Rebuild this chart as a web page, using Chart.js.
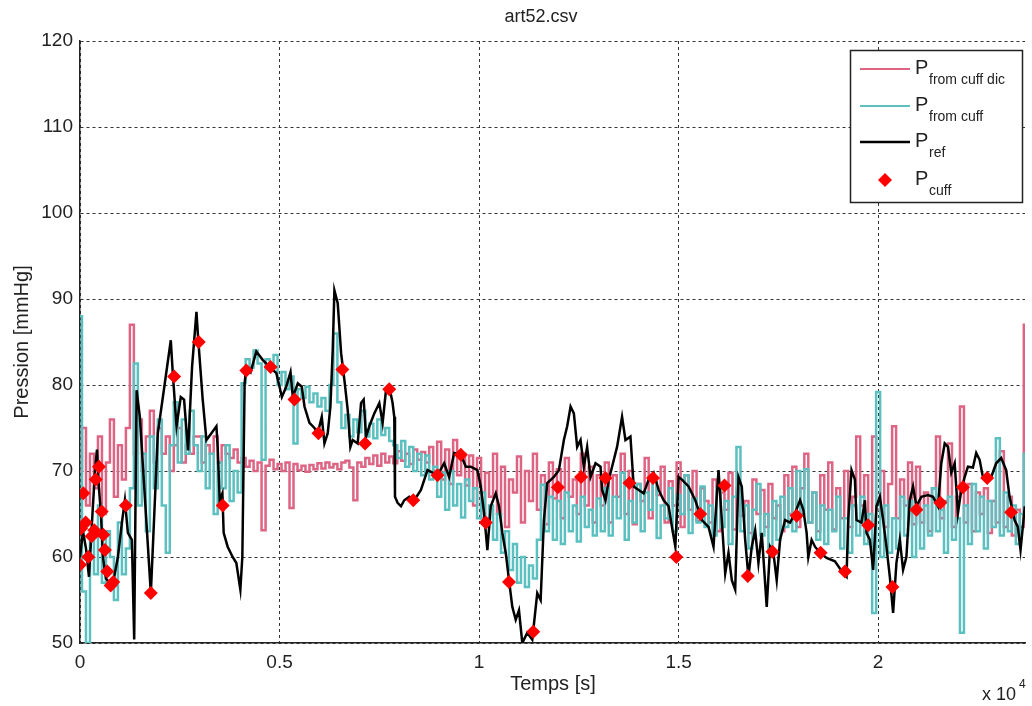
<!DOCTYPE html>
<html><head><meta charset="utf-8">
<script src="https://cdn.jsdelivr.net/npm/chart.js@4.4.1/dist/chart.umd.min.js"></script>
<style>html,body{margin:0;padding:0;background:#fff;}#wrap{width:1032px;height:706px;position:relative;}</style>
</head><body><div id="wrap"><canvas id="c" width="1032" height="706"></canvas></div>
<script>
// ---- text ----
const chartTitle = 'art52.csv';
const xAxisTitle = 'Temps [s]';
const yAxisTitle = 'Pression [mmHg]';
const legendLabels = ['from cuff dic', 'from cuff', 'ref', 'cuff'];
// ---- axes ----
const xRange = [0, 23680];
const yRange = [50, 120];
const xTickValues = [0, 5000, 10000, 15000, 20000];
const yTickValues = [50, 60, 70, 80, 90, 100, 110, 120];
const xTickScale = 10000; // labels shown as x 10^4
// ---- sampled noisy series (sample spacing in s) ----
const SAMPLE_STEP = 100;
const pFromCuffDic = [70,75,66,72,68,74,65,71,76,67,73,69,75,87,
72,76,70,74,77,71,75,72,74,70,73,75,71,73,72,74,
74,71,73,72,74,71,73,72,71.5,72.5,71,71.5,
70.5,71.2,70,71,63.1,70.6,71.3,70.2,70.8,70,71,65.7,70.8,70.1,70.6,69.9,70.7,70.2,70.9,70.3,71,70.4,70.8,70.2,71,
71.2,70.4,66.6,71,70.5,71.5,70.8,71.8,70.6,72,71,71.7,70.9,72.3,71.2,72,70.8,72.5,71.3,72.2,71,72.8,
70,73.4,69,72.5,68.5,73.6,69.5,72,68.3,71.8,
66,71.5,64.5,69.8,67,72,65,70.5,63.5,69,67.5,71.7,64,70,66.5,72,65.5,69.5,63.8,71,66.8,70.2,64.5,71.5,67,69,65,72,66,70.5,64,69.5,
66,71,64,69.5,67,72,65,70,63.8,68.5,66.5,71.5,64.5,69,67.2,70.5,64,68.8,66,71,63.5,69.5,65.5,70,64.2,68,66.5,
64,69,63,67.5,65.5,69.8,63.2,68,64.8,66.5,62.8,69,65,67.8,63.5,68.5,64.5,66,63,69.5,
65,70.5,63.5,68,72,64,67.5,63,69.5,65.5,71,63.2,68,64.5,70,63.5,67,74,
66,69.5,64,74,65.5,70,63.5,68.5,75.2,64.5,69,66,71,63.8,70.5,
64,67.5,63,68,74,64.5,66.5,73.2,63.5,67,77.5,64,68.5,63,67.5,65,68,62.8,66.5,64,72.3,63.5,67,62.5,65.5,63.5,
87];
const pFromCuff = [88,
56,50,62,58,66,57,63,60,55,64,58,61,68,
82.5,
66,72,63,74,68,76,66,60.5,73,78,71,76,72,77,73,
70,74,68,72,65,71,68,73,66.5,70,67.5,
80.2,
83,82,84,82.5,71.3,83,82,83.5,80,81.5,79.5,81,73.2,79.5,78.5,79.8,78,79,77.5,78.5,77,80,86,
78,75,76.5,74,76,74.5,77,74,75.5,73.8,76,74.2,75,73.5,
73,71.5,73.5,70.5,72.8,70,72,69.5,71.8,69,
70.5,67,69.8,65.5,70,66,68.5,64.6,69,66.5,
68,64.5,67.5,63.5,66,62,65,60.5,63,58.5,61.5,57,60,56.5,
59,57.5,62,68.4,63,67,62,66.5,61.5,67.5,63,66,61.8,67,63.5,65.5,62.5,66.8,
63,68,62.5,67,64.5,69.8,62,66.5,64,68.5,63,67.5,65.5,69,62.2,66,64.5,68,63,67.2,65,69.5,62.8,66.8,64,68.2,63.5,
66,62.5,68,63.5,66.5,61.5,67,72.8,63,66,61,65.5,68.5,62.5,65,60.5,66.5,62,67,63.5,
68,63,70,65,70.2,64,67.5,62,66,61.5,65.5,63,67,61,64.5,60.5,66,62.5,
67,61.5,65,53.5,79.2,60,66,60.5,64.5,61,67,62.5,66.5,60,65,
61,66,62.5,68,63,65.5,60.5,67,62,64.5,51.2,66,61.5,68.5,63,67,61,66.5,63.5,73.8,62.5,67.5,63,66,61.5,65,
72];
// ---- reference pressure [time s, mmHg] ----
const pRef = [[0,60],[75,63],[150,61],[225,57.7],[300,64],[375,70],[425,72.5],[475,68],[525,65],[575,60],[650,57.5],[750,57],[850,57.5],[950,60],[1050,64],[1125,66.6],[1200,62.8],[1300,62],[1358,50.4],[1418,79.4],[1500,76.3],[1775,55.8],[1950,74.4],[2125,80.2],[2275,85.2],[2325,81.4],[2418,75.2],[2525,78.6],[2608,78.3],[2708,72.4],[2808,82.1],[2918,88.5],[2958,85.6],[3075,78.3],[3168,73.6],[3293,74.4],[3418,75.2],[3450,72.8],[3500,66.6],[3568,67.4],[3600,62.8],[3700,61.2],[3825,60],[3918,59.3],[4018,56.2],[4068,60],[4125,80.2],[4168,82.1],[4275,81.5],[4418,83.9],[4583,82.9],[4750,82.1],[4918,81.4],[5000,79.8],[5058,78.6],[5168,79.8],[5275,81.5],[5333,78.6],[5458,80.2],[5558,79.8],[5625,77.5],[5750,75.6],[5875,75],[5958,74.4],[6058,76.3],[6125,73.2],[6208,74.4],[6275,77.5],[6333,84.1],[6375,91],[6458,89.5],[6543,83.7],[6625,80.6],[6708,77.1],[6775,72.8],[6833,73.6],[6958,73.2],[7043,77.9],[7108,78.3],[7168,74],[7250,75.2],[7375,76.7],[7500,77.9],[7583,75.6],[7668,79.4],[7750,79.8],[7833,77.9],[7875,76.3],[7893,67],[7958,66.3],[8043,65.9],[8125,66.6],[8250,67],[8375,66.6],[8543,67.8],[8708,70.1],[8833,69.8],[8958,69.5],[9125,70.9],[9250,69.3],[9375,72.1],[9543,71.9],[9668,70.5],[9793,70.5],[9958,70.1],[10043,68.2],[10125,65.1],[10208,60.8],[10293,65.9],[10418,67.4],[10500,65.9],[10583,62.8],[10668,60.5],[10750,57.3],[10833,54.2],[10918,52.7],[11000,53.8],[11083,50],[11208,51.2],[11333,50.4],[11458,55.8],[11543,55],[11625,64.3],[11708,68.6],[11875,69.3],[12000,70.1],[12125,73.6],[12208,75.2],[12293,77.5],[12375,76.7],[12458,72.8],[12543,73.6],[12625,70.5],[12708,72.8],[12793,69.3],[12918,70.9],[13043,70.5],[13083,67.8],[13168,66.6],[13250,69],[13333,70.5],[13458,72.8],[13583,76.3],[13668,73.6],[13793,74],[13875,68.2],[14000,67.8],[14125,67.4],[14250,69],[14375,69.8],[14500,67.8],[14625,66.6],[14750,65.9],[14833,63.5],[14918,61.2],[15000,69.3],[15083,69],[15250,68.2],[15418,66.6],[15583,64.3],[15750,63.5],[15875,61.2],[16000,70.1],[16083,64.3],[16168,58.1],[16250,60.5],[16333,57.3],[16418,56.2],[16500,69.3],[16583,68.2],[16668,62],[16750,57.7],[16833,61.2],[16918,63.1],[17000,59.3],[17083,62.8],[17208,54.2],[17293,61.2],[17375,60.5],[17458,57.3],[17543,62],[17668,64.3],[17793,64],[17918,65.1],[18043,66.6],[18125,65.5],[18208,62.8],[18250,60],[18333,62],[18418,61.2],[18543,60.5],[18708,59.9],[18918,59.5],[19125,58.1],[19208,57.7],[19250,64.3],[19333,70.1],[19418,69],[19458,64.3],[19583,64],[19668,66.6],[19708,62.8],[19793,62],[19875,58.5],[19958,65.9],[20043,67],[20125,64.3],[20208,61.2],[20293,57.7],[20375,53.5],[20458,59.3],[20543,62],[20625,58.5],[20708,60],[20793,66.6],[20875,68.2],[20958,65.9],[21083,67],[21250,67.2],[21375,67],[21500,65.9],[21583,70.9],[21668,73.2],[21750,72.8],[21833,69.8],[21918,70.9],[22000,65.1],[22083,67.8],[22168,69.3],[22250,70.5],[22375,70.4],[22458,72.1],[22543,71.3],[22625,69.3],[22833,69.3],[22958,70.9],[23083,71.5],[23208,70.1],[23293,67],[23418,64.3],[23500,63.5],[23568,60.8],[23625,63.5],[23675,65.9]];
// ---- cuff measurements [time s, mmHg] ----
const pCuff = [[0,59.1],[25,63.3],[83,67.4],[143,64.0],[208,60.0],[293,62.4],[358,63.1],[393,69.0],[475,70.5],[543,65.3],[583,62.6],[625,60.8],[683,58.3],[768,56.7],[833,57.1],[1150,66.0],[1775,55.8],[2358,81.0],[2975,85.0],[3575,66.0],[4168,81.7],[4775,82.1],[5375,78.3],[5975,74.4],[6575,81.8],[7143,73.2],[7750,79.5],[8350,66.6],[8958,69.5],[9543,71.9],[10168,64.0],[10750,57.1],[11358,51.3],[11975,68.1],[12558,69.3],[13168,69.2],[13768,68.6],[14358,69.2],[14943,60.0],[15543,65.0],[16150,68.3],[16733,57.8],[17350,60.6],[17958,64.8],[18558,60.5],[19168,58.3],[19750,63.7],[20358,56.5],[20958,65.5],[21558,66.3],[22125,68.1],[22733,69.2],[23333,65.2]];

const COLORS = {dic:'rgb(222,100,132)', cuffLine:'rgb(92,192,192)', ref:'#000000', cuff:'#ff0000'};
const FONT = '"Liberation Sans", Arial, Helvetica, sans-serif';

const toXY = arr => arr.map((v, i) => ({x: i * SAMPLE_STEP, y: v}));
const pairXY = arr => arr.map(p => ({x: p[0], y: p[1]}));

const textPlugin = {
  id: 'texts',
  afterDraw(chart) {
    const ctx = chart.ctx;
    const a = chart.chartArea;
    ctx.save();
    ctx.fillStyle = '#222';
    ctx.textAlign = 'center';
    ctx.textBaseline = 'middle';
    ctx.font = '18px ' + FONT;
    ctx.fillText(chartTitle, 541, 17);
    ctx.font = '20px ' + FONT;
    ctx.fillText(xAxisTitle, 553, 684);
    ctx.save();
    ctx.translate(22, (a.top + a.bottom) / 2);
    ctx.rotate(-Math.PI / 2);
    ctx.fillText(yAxisTitle, 0, 0);
    ctx.restore();
    // exponent label
    ctx.textAlign = 'left';
    ctx.textBaseline = 'alphabetic';
    ctx.font = '18px ' + FONT;
    ctx.fillText('x 10', 982, 700);
    ctx.font = '12px ' + FONT;
    ctx.fillText('4', 1019, 688);
    // legend
    const L = 850, T = 50, W = 172, H = 152;
    ctx.fillStyle = '#fff';
    ctx.fillRect(L, T, W, H);
    ctx.strokeStyle = '#222';
    ctx.lineWidth = 1.5;
    ctx.strokeRect(L + 0.5, T + 0.5, W, H);
    const rows = [69, 106, 142, 180];
    const cols = [COLORS.dic, COLORS.cuffLine, COLORS.ref];
    for (let i = 0; i < 3; i++) {
      ctx.strokeStyle = cols[i];
      ctx.lineWidth = i === 2 ? 2.5 : 2;
      ctx.beginPath();
      ctx.moveTo(860, rows[i]);
      ctx.lineTo(910, rows[i]);
      ctx.stroke();
    }
    ctx.fillStyle = COLORS.cuff;
    ctx.beginPath();
    const mx = 885, my = 180, r = 7;
    ctx.moveTo(mx, my - r); ctx.lineTo(mx + r, my); ctx.lineTo(mx, my + r); ctx.lineTo(mx - r, my); ctx.closePath();
    ctx.fill();
    ctx.fillStyle = '#222';
    for (let i = 0; i < 4; i++) {
      ctx.font = '20px ' + FONT;
      ctx.fillText('P', 915, rows[i] + 5);
      ctx.font = '14px ' + FONT;
      ctx.fillText(legendLabels[i], 929, rows[i] + 15);
    }
    ctx.restore();
  }
};

new Chart(document.getElementById('c'), {
  type: 'scatter',
  data: {
    datasets: [
      {label: 'P from cuff dic', data: toXY(pFromCuffDic), showLine: true, stepped: 'middle', borderColor: COLORS.dic, borderWidth: 2.5, pointRadius: 0, order: 4},
      {label: 'P from cuff', data: toXY(pFromCuff), showLine: true, stepped: 'middle', borderColor: COLORS.cuffLine, borderWidth: 2.5, pointRadius: 0, order: 3},
      {label: 'P ref', data: pairXY(pRef), showLine: true, borderColor: COLORS.ref, borderWidth: 2.5, pointRadius: 0, order: 2},
      {label: 'P cuff', data: pairXY(pCuff), showLine: false, pointStyle: 'rectRot', pointRadius: 7, backgroundColor: COLORS.cuff, borderColor: COLORS.cuff, borderWidth: 0, order: 1}
    ]
  },
  options: {
    responsive: false,
    animation: false,
    devicePixelRatio: 1,
    layout: {padding: {left: 0, right: 5, top: 41, bottom: 0}},
    plugins: {legend: {display: false}, title: {display: false}, tooltip: {enabled: false}},
    scales: {
      x: {
        type: 'linear', min: xRange[0], max: xRange[1],
        afterFit(s) { s.height = 63; },
        afterBuildTicks(s) { s.ticks = xTickValues.map(v => ({value: v})); },
        ticks: {padding: 8, color: '#222', font: {family: FONT, size: 19}, maxRotation: 0, autoSkip: false,
          callback: v => String(v / xTickScale)},
        grid: {color: '#333', lineWidth: 1, drawTicks: false},
        border: {display: true, color: '#222', width: 1.5, dash: [3, 3]}
      },
      y: {
        type: 'linear', min: yRange[0], max: yRange[1],
        afterFit(s) { s.width = 80; },
        afterBuildTicks(s) { s.ticks = yTickValues.map(v => ({value: v})); },
        ticks: {padding: 7, color: '#222', font: {family: FONT, size: 19}, autoSkip: false},
        grid: {color: '#333', lineWidth: 1, drawTicks: false},
        border: {display: true, color: '#222', width: 1.5, dash: [3, 3]}
      }
    }
  },
  plugins: [textPlugin]
});
</script></body></html>
